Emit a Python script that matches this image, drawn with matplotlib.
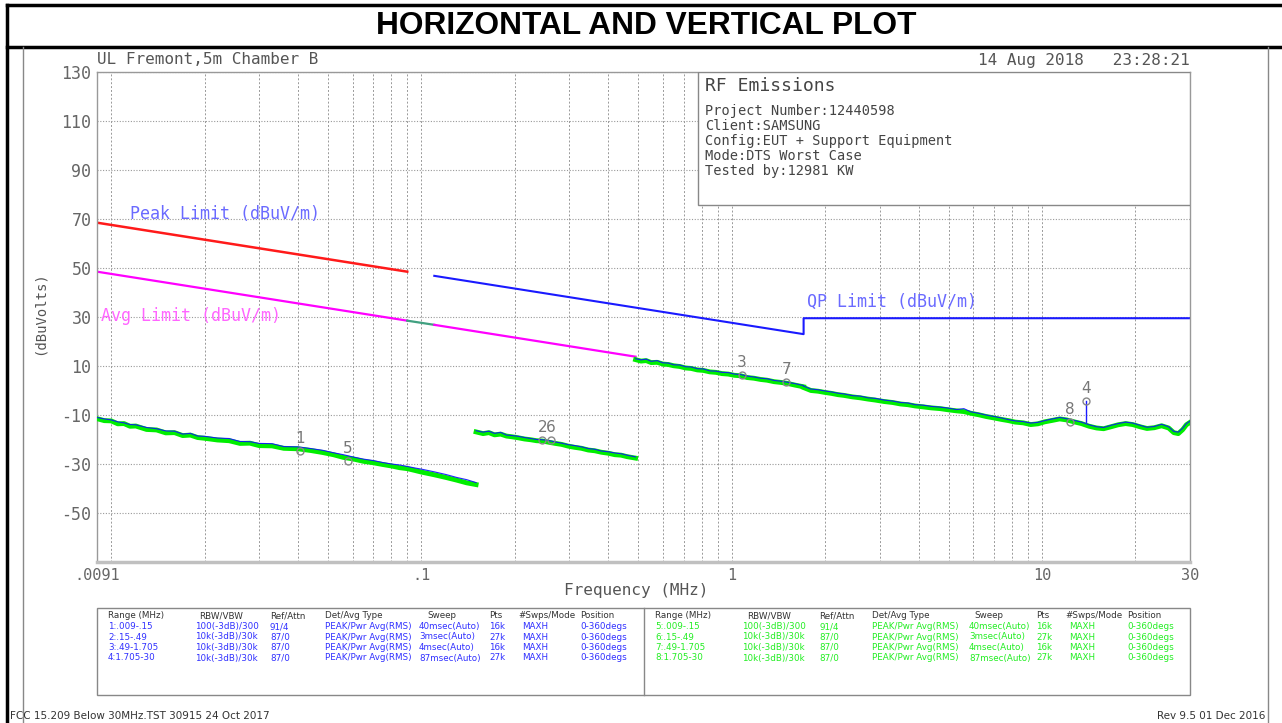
import numpy as np
import matplotlib.pyplot as plt
from matplotlib.patches import Rectangle
from matplotlib.lines import Line2D

W, H = 1282, 723

# ---- traces (MHz, dBuV) ----
seg1_freq = [0.009, 0.0095, 0.010, 0.0105, 0.011, 0.0115, 0.012, 0.013, 0.014, 0.015,
             0.016, 0.017, 0.018, 0.019, 0.020, 0.022, 0.024, 0.026, 0.028, 0.030,
             0.033, 0.036, 0.040, 0.044, 0.048, 0.052, 0.056, 0.060, 0.065, 0.070,
             0.075, 0.080, 0.085, 0.090, 0.095, 0.100, 0.110, 0.120, 0.130, 0.140, 0.150]
seg1_green = [-11.5, -12.3, -12.4, -13.6, -13.5, -14.6, -14.5, -15.9, -16.1, -17.3,
              -17.2, -18.4, -18.2, -19.2, -19.5, -20.2, -20.5, -21.6, -21.5, -22.5,
              -22.6, -23.6, -23.8, -24.5, -25.3, -26.2, -27.3, -27.9, -28.9, -29.5,
              -30.2, -30.8, -31.5, -31.9, -32.6, -33.3, -34.4, -35.5, -36.6, -37.7, -38.4]
seg1_blue = [-11.0, -11.6, -12.0, -12.8, -13.2, -13.9, -14.0, -15.1, -15.6, -16.5,
             -16.6, -17.8, -17.5, -18.6, -18.7, -19.4, -19.6, -20.8, -20.9, -21.6,
             -21.7, -22.9, -23.0, -23.7, -24.4, -25.4, -26.2, -27.1, -28.0, -28.6,
             -29.4, -30.0, -30.4, -31.0, -31.6, -32.1, -33.2, -34.3, -35.5, -36.4, -37.6]

seg2_freq = [0.150, 0.158, 0.165, 0.172, 0.180, 0.188, 0.196, 0.205, 0.215, 0.225,
             0.235, 0.245, 0.257, 0.270, 0.283, 0.297, 0.312, 0.328, 0.345, 0.362,
             0.380, 0.400, 0.420, 0.440, 0.460, 0.490]
seg2_green = [-16.9, -17.6, -17.2, -18.1, -17.8, -18.6, -18.9, -19.3, -19.8, -20.1,
              -20.5, -20.6, -21.1, -21.6, -22.0, -22.7, -23.2, -23.6, -24.3, -24.6,
              -25.2, -25.6, -26.2, -26.4, -27.0, -27.6]
seg2_blue = [-16.4, -17.0, -16.6, -17.5, -17.1, -18.2, -18.4, -18.7, -19.2, -19.6,
             -20.0, -20.1, -20.4, -21.0, -21.5, -22.1, -22.5, -23.0, -23.7, -24.0,
             -24.7, -25.0, -25.5, -25.8, -26.4, -27.1]

seg3_freq = [0.490, 0.510, 0.530, 0.550, 0.575, 0.600, 0.625, 0.650, 0.680, 0.710,
             0.740, 0.775, 0.810, 0.850, 0.890, 0.930, 0.975, 1.020, 1.070, 1.120,
             1.180, 1.240, 1.300, 1.370, 1.440, 1.510, 1.600, 1.705]
seg3_green = [12.6, 12.0, 12.2, 11.4, 11.5, 10.8, 10.6, 10.1, 9.8, 9.2,
              9.0, 8.4, 8.2, 7.6, 7.4, 6.9, 6.7, 6.2, 6.0, 5.3,
              5.0, 4.5, 4.2, 3.6, 3.3, 2.9, 2.2, 1.5]
seg3_blue = [13.0, 12.5, 12.8, 11.9, 12.2, 11.3, 11.2, 10.5, 10.4, 9.7,
             9.6, 8.9, 8.8, 8.0, 7.9, 7.4, 7.3, 6.7, 6.5, 5.9,
             5.5, 5.0, 4.8, 4.1, 3.8, 3.4, 2.8, 2.0]

seg4_freq = [1.705, 1.80, 1.90, 2.00, 2.10, 2.20, 2.30, 2.45, 2.60, 2.75,
             2.90, 3.10, 3.30, 3.50, 3.70, 3.90, 4.15, 4.40, 4.70, 5.00,
             5.30, 5.60, 5.90, 6.25, 6.60, 7.00, 7.40, 7.80, 8.20, 8.70,
             9.20, 9.70, 10.2, 10.8, 11.4, 12.0, 12.7, 13.4, 14.2, 15.0,
             15.8, 16.7, 17.6, 18.6, 19.6, 20.7, 21.8, 23.0, 24.3, 25.6,
             26.6, 27.5, 28.4, 29.2, 30.0]
seg4_green = [1.2, 0.0, -0.3, -0.8, -1.2, -1.7, -2.0, -2.6, -3.0, -3.5,
              -3.9, -4.5, -4.9, -5.5, -5.8, -6.3, -6.7, -7.1, -7.4, -7.9,
              -8.3, -8.6, -9.3, -9.9, -10.6, -11.2, -11.8, -12.3, -12.9, -13.2,
              -13.9, -13.6, -12.8, -12.2, -11.6, -12.0, -12.8, -13.5, -14.6, -15.3,
              -15.6, -14.8, -14.0, -13.5, -13.9, -14.8, -15.5, -15.2, -14.4, -15.3,
              -17.2, -17.6, -16.0, -14.0, -13.0]
seg4_blue = [1.8, 0.6, 0.3, -0.2, -0.6, -1.1, -1.4, -2.1, -2.3, -3.0,
             -3.2, -3.9, -4.3, -4.9, -5.1, -5.8, -6.0, -6.5, -6.8, -7.2,
             -7.8, -7.4, -8.7, -9.3, -10.0, -10.6, -11.2, -11.9, -12.4, -12.7,
             -13.3, -13.0, -12.3, -11.6, -11.0, -11.5, -12.2, -12.9, -14.0, -14.8,
             -15.1, -14.2, -13.5, -12.9, -13.3, -14.2, -15.0, -14.7, -13.8, -14.8,
             -16.7, -17.0, -15.4, -13.5, -12.5]

# ---- limit lines ----
peak_freq = [0.009, 0.09]
peak_lim = [68.5, 48.5]
avg_freq = [0.009, 0.09]
avg_lim = [48.5, 28.5]
avg_gap_freq = [0.09, 0.11]
avg_gap_lim = [28.5, 26.8]
avg2_freq = [0.11, 0.49]
avg2_lim = [26.8, 13.8]
qp_freq = [0.11, 1.705, 1.705, 30]
qp_lim = [46.8, 23.0, 29.5, 29.5]

# ---- markers ----
marker_ids = ['1', '5', '2', '6', '3', '7', '8', '4']
marker_freq = [0.0407, 0.058, 0.245, 0.262, 1.08, 1.50, 12.3, 13.9]
marker_level = [-24.8, -28.8, -20.2, -20.2, 6.3, 3.5, -13.0, -4.3]
marker4_base = -12.9

# ---- ticks ----
ytick_vals = [-50, -30, -10, 10, 30, 50, 70, 90, 110, 130]
xtick_vals = [0.009, 0.1, 1, 10, 30]
xtick_labels = ['.0091', '.1', '1', '10', '30']

# ---- settings table ----
table_header = ['Range (MHz)', 'RBW/VBW', 'Ref/Attn', 'Det/Avg Type', 'Sweep', 'Pts', '#Swps/Mode', 'Position']
range_left = ['1:.009-.15', '2:.15-.49', '3:.49-1.705', '4:1.705-30']
range_right = ['5:.009-.15', '6:.15-.49', '7:.49-1.705', '8:1.705-30']
rbw_vbw = ['100(-3dB)/300', '10k(-3dB)/30k', '10k(-3dB)/30k', '10k(-3dB)/30k']
ref_attn = ['91/4', '87/0', '87/0', '87/0']
det_type = ['PEAK/Pwr Avg(RMS)'] * 4
sweep = ['40msec(Auto)', '3msec(Auto)', '4msec(Auto)', '87msec(Auto)']
pts = ['16k', '27k', '16k', '27k']
swps = ['MAXH'] * 4
position = ['0-360degs'] * 4

info_lines = ['Project Number:12440598', 'Client:SAMSUNG', 'Config:EUT + Support Equipment',
              'Mode:DTS Worst Case', 'Tested by:12981 KW']

MONO = 'DejaVu Sans Mono'
GRAY = '#555555'


def fx(x):
    return x / W


def fy(y):
    return 1 - y / H


fig = plt.figure(figsize=(W / 100, H / 100), dpi=100)
fig.patch.set_facecolor('white')

# frame lines
fig.add_artist(Line2D([fx(7), 1], [fy(5), fy(5)], color='black', lw=2.5))
fig.add_artist(Line2D([fx(7), 1], [fy(47), fy(47)], color='black', lw=2.5))
fig.add_artist(Line2D([fx(7), fx(7)], [fy(5), 0], color='black', lw=2.5))
fig.add_artist(Line2D([fx(23), fx(23)], [fy(47), 0], color='#888888', lw=1))
fig.add_artist(Line2D([fx(1268), fx(1268)], [fy(47), 0], color='#888888', lw=1))
fig.text(fx(646), fy(26), 'HORIZONTAL AND VERTICAL PLOT', ha='center', va='center',
         fontsize=22.8, fontweight='bold', family='Liberation Sans')

# main axes
left, right, top, bottom = 97, 1190, 72, 562
ax = fig.add_axes([fx(left), fy(bottom), fx(right - left), (bottom - top) / H])
ax.set_xscale('log')
ax.set_xlim(0.009, 30)
ax.set_ylim(-70, 130)

gridx = []
for dec in [0.01, 0.1, 1, 10]:
    for k in range(1, 10):
        v = dec * k
        if v < 30:
            gridx.append(v)
for v in gridx:
    ax.axvline(v, color='#999999', lw=0.7, ls=(0, (2, 2)), zorder=0)
for v in ytick_vals:
    ax.axhline(v, color='#999999', lw=0.8, ls=(0, (1, 1.5)), zorder=0)

for s in ax.spines.values():
    s.set_color('#999999')
    s.set_linewidth(1)
ax.spines['bottom'].set_color('#c0c0c0')
ax.spines['bottom'].set_linewidth(2.5)

ax.set_yticks(ytick_vals)
ax.set_yticklabels([str(v) for v in ytick_vals], family=MONO, fontsize=12, color='#666666')
ax.set_xticks(xtick_vals)
ax.set_xticklabels(xtick_labels, family=MONO, fontsize=11, color='#666666')
ax.xaxis.set_minor_locator(plt.NullLocator())
ax.tick_params(length=0, pad=4)

# limits
ax.plot(peak_freq, peak_lim, color='#ff1a1a', lw=1.8)
ax.plot(avg_freq, avg_lim, color='#ff00ff', lw=1.6)
ax.plot(avg_gap_freq, avg_gap_lim, color='#40a080', lw=1.6)
ax.plot(avg2_freq, avg2_lim, color='#ff00ff', lw=1.6)
ax.plot(qp_freq, qp_lim, color='#1a1aff', lw=1.5)

# traces
for f, g, b in [(seg1_freq, seg1_green, seg1_blue), (seg2_freq, seg2_green, seg2_blue),
                (seg3_freq, seg3_green, seg3_blue), (seg4_freq, seg4_green, seg4_blue)]:
    ax.plot(f, g, color='#00ee00', lw=3.5, zorder=3)
    ax.plot(f, b, color='#1010ff', lw=0.8, zorder=4, alpha=0.9)

# markers
ax.plot([marker_freq[7], marker_freq[7]], [marker4_base, marker_level[7]], color='#1a1aff', lw=1, zorder=4)
for mid, f, lv in zip(marker_ids, marker_freq, marker_level):
    ax.plot(f, lv, marker='o', ms=5, mfc='none', mec='#888888', mew=1, zorder=5)
    ax.annotate(mid, (f, lv), xytext=(0, 9), textcoords='offset points', ha='center', va='center',
                fontsize=11, color='#777777', zorder=5)

# limit labels
ax.text(0.0115, 72, 'Peak Limit (dBuV/m)', family=MONO, fontsize=12, color='#6a6aff', va='center')
ax.text(0.0093, 30.5, 'Avg Limit (dBuV/m)', family=MONO, fontsize=12, color='#ff66ff', va='center')
ax.text(1.75, 36, 'QP Limit (dBuV/m)', family=MONO, fontsize=12, color='#6a6aff', va='center')

# info box
ax.add_patch(Rectangle((0.55, 0.729), 0.45, 0.271, transform=ax.transAxes, facecolor='white',
                       edgecolor='#888888', lw=1, zorder=6))
fig.text(fx(705), fy(86), 'RF Emissions', family=MONO, fontsize=13, color='#444444', va='center', zorder=7)
for i, line in enumerate(info_lines):
    fig.text(fx(705), fy(111 + 15 * i), line, family=MONO, fontsize=9.8, color='#444444', va='center', zorder=7)

# headers around plot
fig.text(fx(97), fy(60), 'UL Fremont,5m Chamber B', family=MONO, fontsize=11.5, color=GRAY, va='center')
fig.text(fx(1190), fy(60), '14 Aug 2018   23:28:21', family=MONO, fontsize=11.5, color=GRAY,
         va='center', ha='right')
fig.text(fx(40), fy(313), '(dBuVolts)', family=MONO, fontsize=10, color=GRAY, va='center', ha='center',
         rotation=90)
fig.text(fx(636), fy(591), 'Frequency (MHz)', family=MONO, fontsize=11.5, color=GRAY, va='center', ha='center')

# settings table
fig.add_artist(Rectangle((fx(97), fy(695)), fx(1190 - 97), (695 - 608) / H, fill=False,
                         edgecolor='#888888', lw=1, transform=fig.transFigure))
fig.add_artist(Line2D([fx(644), fx(644)], [fy(695), fy(608)], color='#888888', lw=1))

hdr_left = [108, 199, 270, 325, 427, 489, 518, 580]
dat_left = [108, 195, 270, 325, 419, 489, 522, 580]
hdr_right = [655, 747, 819, 872, 974, 1036, 1065, 1127]
dat_right = [655, 742, 819, 872, 969, 1036, 1069, 1127]
row_y = [616, 626.5, 637, 647.5, 658]
for hx, name in zip(hdr_left, table_header):
    fig.text(fx(hx), fy(row_y[0]), name, fontsize=6.3, color='#333333', va='center')
for hx, name in zip(hdr_right, table_header):
    fig.text(fx(hx), fy(row_y[0]), name, fontsize=6.3, color='#333333', va='center')
for i in range(4):
    left_row = [range_left[i], rbw_vbw[i], ref_attn[i], det_type[i], sweep[i], pts[i], swps[i], position[i]]
    right_row = [range_right[i], rbw_vbw[i], ref_attn[i], det_type[i], sweep[i], pts[i], swps[i], position[i]]
    for dx, t in zip(dat_left, left_row):
        fig.text(fx(dx), fy(row_y[i + 1]), t, fontsize=6.3, color='#3030ff', va='center')
    for dx, t in zip(dat_right, right_row):
        fig.text(fx(dx), fy(row_y[i + 1]), t, fontsize=6.3, color='#22ee22', va='center')

# footer
fig.text(fx(10), fy(716), 'FCC 15.209 Below 30MHz.TST 30915 24 Oct 2017', fontsize=7.5, color='#333333',
         va='center')
fig.text(fx(1265), fy(716), 'Rev 9.5 01 Dec 2016', fontsize=7.5, color='#333333', va='center', ha='right')

fig.savefig('out.png', dpi=100)
